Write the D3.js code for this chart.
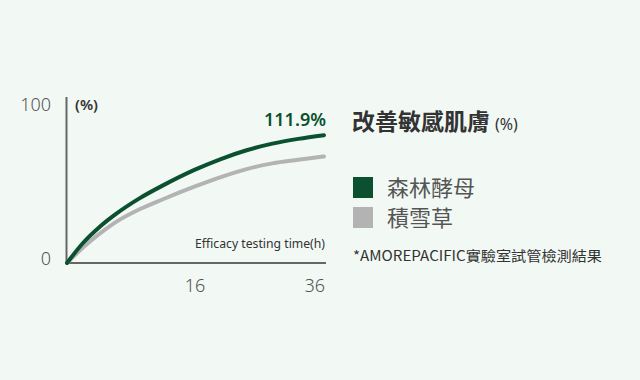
<!DOCTYPE html>
<html>
<head>
<meta charset="utf-8">
<script src="https://cdn.jsdelivr.net/npm/d3@7"></script>
<style>
  body { margin: 0; background: #f2f9f4; }
  svg { display: block; }
</style>
</head>
<body>
<div id="chart"></div>
<script>
const w = 640
const h = 380

// hours
const hours = [0, 2, 4, 6, 9, 12, 16, 20, 24, 28, 32, 36]
const forestYeast = [0, 13.0, 23.1, 31.4, 41.8, 50.4, 60.6, 67.5, 73.2, 77.5, 80.6, 83.0]
const centella = [0, 10.0, 18.7, 26.2, 34.7, 41.4, 49.7, 55.8, 61.0, 64.7, 67.0, 69.2]

const xTicks = [16, 36]
const yTicks = [0, 100]
const seriesNames = ["森林酵母", "積雪草"]
const seriesColors = ["#0b5130", "#b3b3b3"]

const svg = d3.select("#chart")
              .append("svg")
                .attr("width", w)
                .attr("height", h)

svg.append("rect").attr("width", w).attr("height", h).attr("fill", "#f2f9f4")

// x is drawn uneven in the source, so use a polylinear scale
const xScale = d3.scaleLinear()
                  .domain([0, 16, 36])
                  .range([67, 195, 324])

const yScale = d3.scaleLinear()
                  .domain([0, 100])
                  .range([263, 109])

// --- axes ---
svg.append("line")
    .attr("x1", 66.5).attr("x2", 66.5)
    .attr("y1", 97).attr("y2", 264)
    .attr("stroke", "#666").attr("stroke-width", 2)

svg.append("line")
    .attr("x1", 66).attr("x2", 326)
    .attr("y1", 263).attr("y2", 263)
    .attr("stroke", "#666").attr("stroke-width", 2)

svg.selectAll(".ylab")
    .data(yTicks)
    .join("text")
      .attr("x", 51)
      .attr("y", d => yScale(d) + 2)
      .attr("text-anchor", "end")
      .attr("font-family", "Noto Sans")
      .attr("font-weight", 300)
      .attr("font-size", 18)
      .attr("fill", "#555")
      .text(d => d)

svg.selectAll(".xlab")
    .data(xTicks)
    .join("text")
      .attr("x", d => d === 36 ? xScale(d) + 1 : xScale(d))
      .attr("y", 292)
      .attr("text-anchor", d => d === 36 ? "end" : "middle")
      .attr("font-family", "Noto Sans")
      .attr("font-weight", 300)
      .attr("font-size", 18)
      .attr("fill", "#555")
      .text(d => d)

svg.append("text")
    .attr("x", 75).attr("y", 110)
    .attr("font-family", "Noto Sans")
    .attr("font-weight", 600)
    .attr("font-size", 14)
    .attr("fill", "#333")
    .attr("textLength", 23)
    .attr("lengthAdjust", "spacingAndGlyphs")
    .text("(%)")

svg.append("text")
    .attr("x", 325).attr("y", 248)
    .attr("text-anchor", "end")
    .attr("font-family", "Noto Sans")
    .attr("font-size", 13)
    .attr("fill", "#333")
    .attr("textLength", 130)
    .attr("lengthAdjust", "spacingAndGlyphs")
    .text("Efficacy testing time(h)")

// --- lines ---
const line = d3.line()
                .x((d, i) => xScale(hours[i]))
                .y(d => yScale(d))
                .curve(d3.curveMonotoneX)

svg.selectAll(".series")
    .data([centella, forestYeast])
    .join("path")
      .attr("d", line)
      .attr("fill", "none")
      .attr("stroke", (d, i) => i === 0 ? seriesColors[1] : seriesColors[0])
      .attr("stroke-width", 4)
      .attr("stroke-linecap", "round")

svg.append("text")
    .attr("x", 326).attr("y", 126)
    .attr("text-anchor", "end")
    .attr("font-family", "Noto Sans")
    .attr("font-weight", 600)
    .attr("font-size", 18)
    .attr("fill", seriesColors[0])
    .attr("textLength", 62)
    .attr("lengthAdjust", "spacingAndGlyphs")
    .text("111.9%")

// --- title + legend ---
const title = svg.append("text")
    .attr("x", 352).attr("y", 130)
    .attr("font-family", "Noto Sans CJK TC")
    .attr("fill", "#333")
title.append("tspan")
    .attr("font-weight", 700)
    .attr("font-size", 23)
    .text("改善敏感肌膚")
title.append("tspan")
    .attr("font-family", "Noto Sans")
    .attr("font-size", 16)
    .attr("dx", 5)
    .text("(%)")

const legend = svg.selectAll(".legend")
    .data(seriesNames)
    .join("g")
      .attr("transform", (d, i) => `translate(353, ${177 + i * 30})`)

legend.append("rect")
    .attr("width", 20).attr("height", 21)
    .attr("fill", (d, i) => seriesColors[i])

legend.append("text")
    .attr("x", 34).attr("y", 19)
    .attr("font-family", "Noto Sans CJK TC")
    .attr("font-size", 22)
    .attr("fill", "#555")
    .text(d => d)

svg.append("text")
    .attr("x", 353).attr("y", 261)
    .attr("font-family", "Noto Sans CJK TC")
    .attr("font-size", 14)
    .attr("fill", "#333")
    .attr("textLength", 249)
    .attr("lengthAdjust", "spacingAndGlyphs")
    .text("*AMOREPACIFIC實驗室試管檢測結果")
</script>
</body>
</html>
